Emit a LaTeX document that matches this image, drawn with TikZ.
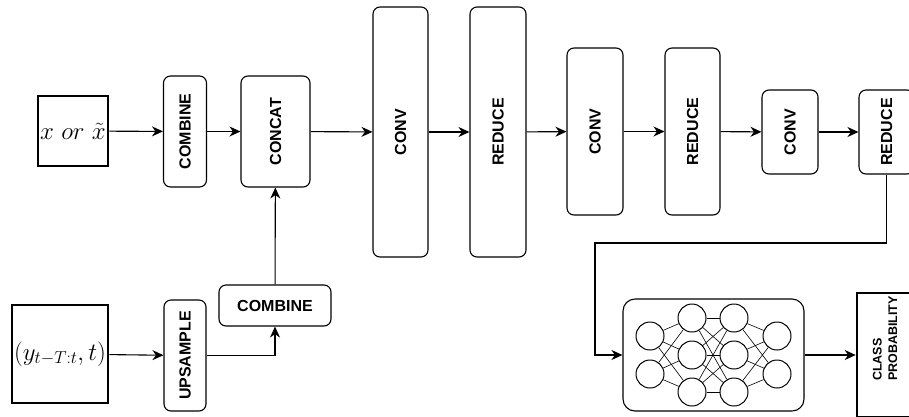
\documentclass[tikz,border=0pt]{standalone}
\usepackage{fontspec}
\setsansfont{Liberation Sans}
\usepackage{tikz}
\usetikzlibrary{arrows.meta,calc}

\begin{document}
\begin{tikzpicture}[x=1pt,y=-1pt,>={Stealth[length=11pt,width=10pt,inset=3.5pt]},
 blk/.style={draw,rounded corners=7pt,line width=1.1pt,inner sep=0pt,
  font=\sffamily\bfseries\fontsize{16}{19}\selectfont},
 vblk/.style={blk,rotate=90},
 inbox/.style={draw,line width=2.6pt,inner sep=0pt,font=\fontsize{24}{28}\selectfont},
 flow/.style={->,line width=1.1pt},
 neuron/.style={circle,draw,line width=1pt,minimum size=28pt,inner sep=0pt},
 syn/.style={line width=0.6pt}]
\clip (0,0) rectangle (909,416);
% inputs
\node[inbox,minimum width=70,minimum height=70] (xin) at (73,131) {$x\ or\ \tilde{x}$};
\node[inbox,minimum width=96,minimum height=98] (yin) at (60,354) {$(y_{t-T:t},t)$};
% feature branch
\node[vblk,minimum width=111,minimum height=43] (comb1) at (185,131.5) {COMBINE};
\node[vblk,minimum width=111,minimum height=42] (ups) at (185,355.5) {UPSAMPLE};
\node[blk,minimum width=112,minimum height=41] (comb2) at (275,305.5) {COMBINE};
\node[vblk,minimum width=111,minimum height=69] (concat) at (275.5,131.5) {CONCAT};
% conv / reduce stack
\node[vblk,minimum width=250,minimum height=55] (conv1) at (400.5,132) {CONV};
\node[vblk,minimum width=250,minimum height=56] (red1) at (498,132) {REDUCE};
\node[vblk,minimum width=167,minimum height=56] (conv2) at (595,131.5) {CONV};
\node[vblk,minimum width=167,minimum height=55] (red2) at (692.5,131.5) {REDUCE};
\node[vblk,minimum width=84,minimum height=56] (conv3) at (790,132) {CONV};
\node[vblk,minimum width=84,minimum height=55] (red3) at (886.5,132) {REDUCE};
% classifier
\node[draw,rounded corners=12pt,line width=1.1pt,minimum width=181,minimum height=112] (nn) at (713.5,355) {};
\node[draw,line width=2.6pt,minimum width=60,minimum height=124] (cls) at (887,355) {};
\node[rotate=90,anchor=west,align=left,inner sep=0pt,
 font=\sffamily\bfseries\fontsize{12.5}{15.5}\selectfont] (clstext) at (885,381) {CLASS\\PROBABILITY};
% small network inside the classifier
\foreach \i/\y in {1/336,2/374} {
 \node[neuron] (a\i) at (650,\y) {};
 \node[neuron] (d\i) at (777,\y) {};
}
\foreach \i/\y in {1/318,2/355,3/392} {
 \node[neuron] (b\i) at (692,\y) {};
 \node[neuron] (c\i) at (734,\y) {};
}
\foreach \i in {1,2} \foreach \j in {1,2,3} {
 \draw[syn] (a\i) -- (b\j);
 \draw[syn] (c\j) -- (d\i);
}
\foreach \i in {1,2,3} \foreach \j in {1,2,3}
 \draw[syn] (b\i) -- (c\j);
% connectors
\coordinate (turn) at (595,243);
\draw[flow] (xin) -- (comb1);
\draw[flow] (comb1) -- (concat);
\draw[flow] (concat) -- (conv1);
\draw[flow] (conv1) -- (red1);
\draw[flow] (red1) -- (conv2);
\draw[flow] (conv2) -- (red2);
\draw[flow] (red2) -- (conv3);
\draw[flow] (conv3) -- (red3);
\draw[flow] (yin) -- (ups);
\draw[flow] (ups) -| (comb2);
\draw[flow] (comb2) -- (concat);
\draw[flow] (red3) |- (turn) |- (nn);
\draw[flow] (nn) -- (cls);
\end{tikzpicture}
\end{document}
